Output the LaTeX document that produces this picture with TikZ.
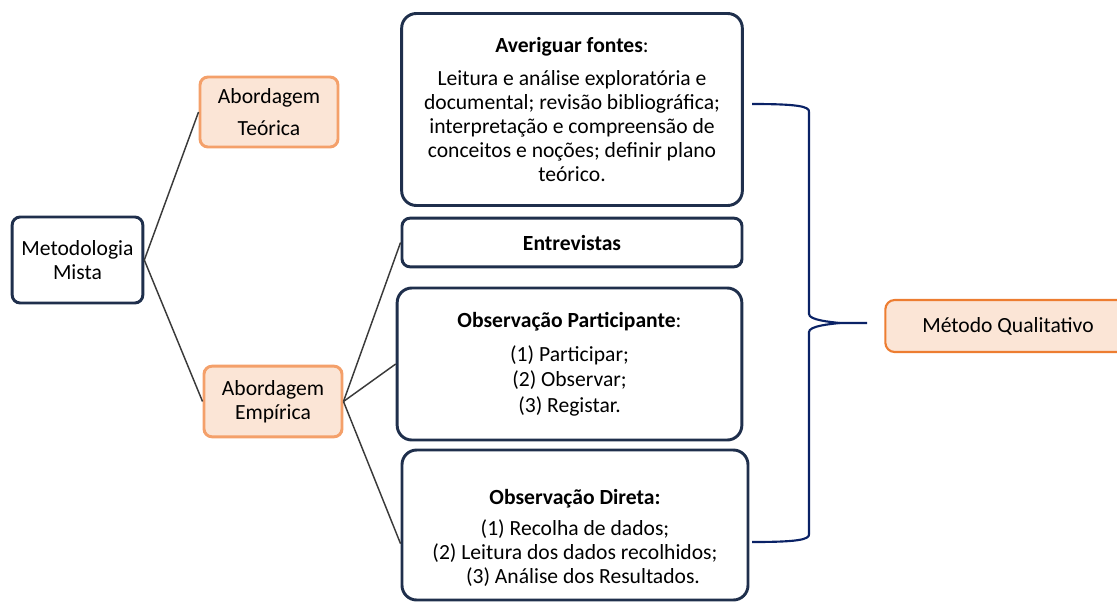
\documentclass[tikz,border=0pt]{standalone}
\usepackage{fontspec}
\setmainfont{Carlito}
\usepackage{xcolor}
\usetikzlibrary{positioning}
\definecolor{navybox}{HTML}{1F2F4C}
\definecolor{navybrace}{HTML}{0A2266}
\definecolor{peach}{HTML}{FBE5D6}
\definecolor{peachline}{HTML}{F4A06A}
\definecolor{orangeline}{HTML}{ED7D31}
\definecolor{linkgray}{HTML}{3A3A3A}
\tikzset{
    navybox/.style = {rectangle, rounded corners=11pt, draw=navybox, line width=2.2pt, fill=white, align=center, inner sep=2pt},
    smallbox/.style = {navybox, rounded corners=6pt},
    approach/.style = {rectangle, rounded corners=6pt, draw=peachline, line width=2.2pt, fill=peach, align=center,
                       minimum width=103.5pt, inner sep=2pt},
    method/.style = {rectangle, rounded corners=7pt, draw=orangeline, line width=1.6pt, fill=peach, align=center},
    link/.style = {draw=linkgray, line width=1.1pt},
    bracket/.style = {draw=navybrace, line width=1.6pt}
}

\begin{document}
\begin{tikzpicture}[x=0.75pt, y=-0.75pt, font=\fontsize{16.2}{18}\selectfont]
\useasboundingbox (0,0) rectangle (1117,601);

% left part
\node (mista) [smallbox, minimum width=98pt, minimum height=64.5pt] at (77.5,260) {Metodologia\\Mista};
\node (teorica) [approach, minimum height=52.5pt, font=\fontsize{16.2}{24.5}\selectfont] at (269,112) {Abordagem\\Teórica};
\node (empirica) [approach, minimum height=53pt] at (273,401.5) {Abordagem\\Empírica};

% boxes on the right
\node (fontes) [navybox, minimum width=255.5pt, minimum height=144pt] at (572,109.5)
    {\textbf{Averiguar fontes}:\\[7pt]Leitura e análise exploratória e\\documental; revisão bibliográfica;\\interpretação e compreensão de\\conceitos e noções; definir plano\\teórico.};
\node (entrevistas) [smallbox, minimum width=255pt, minimum height=36.5pt] at (572,242.5) {\textbf{Entrevistas}};
\node (participante) [navybox, minimum width=258.5pt, minimum height=114pt] at (569.5,364)
    {\textbf{Observação Participante}:\\[7.5pt](1) Participar;\\[1pt](2) Observar;\\[1pt](3) Registar.};
\node (direta) [navybox, minimum width=259.5pt, minimum height=112.5pt] at (575,525)
    {\mbox{}\\[13pt]\textbf{Observação Direta:}\\[5pt](1) Recolha de dados;\\(2) Leitura dos dados recolhidos;\\\hspace*{12pt}(3) Análise dos Resultados.};

\node (qualitativo) [method, minimum width=184pt, minimum height=39pt] at (1008,326) {Método Qualitativo};

% connectors
\draw [link] (mista.east) -- (teorica.west);
\draw [link] (mista.east) -- (empirica.west);
\draw [link] (empirica.east) -- (entrevistas.west);
\draw [link] (empirica.east) -- (participante.west);
\draw [link] (empirica.east) -- ([yshift=-14pt]direta.west);

% brace
\coordinate (bracetop) at (752,104);
\coordinate (bracebottom) at (752,542);
\coordinate (bracetip) at (867,323);
\draw [bracket] (bracetop) .. controls (795,104) and (810,106) .. (809,112)
    -- (809,314) .. controls (809,320) and (830,322) .. (840,323) -- (bracetip);
\draw [bracket] (bracebottom) .. controls (795,542) and (810,540) .. (809,534)
    -- (809,332) .. controls (809,326) and (830,324) .. (840,323);
\end{tikzpicture}
\end{document}
